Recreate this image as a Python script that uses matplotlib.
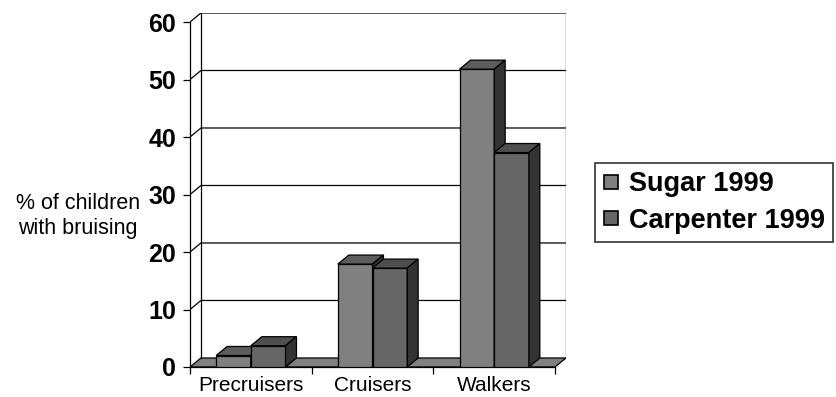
import numpy as np
import matplotlib.pyplot as plt
from matplotlib.lines import Line2D

plt.rcParams['font.family'] = ['Liberation Sans', 'DejaVu Sans']

categories = ['Precruisers', 'Cruisers', 'Walkers']
sugar = [2.0, 17.9, 51.8]
carpenter = [3.7, 17.2, 37.3]
series_names = ['Sugar 1999', 'Carpenter 1999']
yticks = [0, 10, 20, 30, 40, 50, 60]

# fake 3d: depth offset in data units
dx = 0.09
dy = 1.57
bw = 0.285
ymax = 60

front_cols = ['#808080', '#666666']
top_cols = ['#5c5c5c', '#4e4e4e']
side_col = '#333333'

fig = plt.figure(figsize=(8.37, 3.97), dpi=100)
ax = fig.add_axes([190/837, 30/397, 376/837, 354/397])
ax.set_xlim(-0.5, 2.5 + dx)
ax.set_ylim(0, ymax + dy)

x = np.arange(len(categories))
x0, x1 = -0.5, len(categories) - 0.5

# floor
ax.fill([x0, x1, x1 + dx, x0 + dx], [0, 0, dy, dy], facecolor='#808080',
        edgecolor='black', lw=0.9, zorder=1)

# back wall, side wall gridlines
for v in yticks[1:]:
    ax.plot([x0, x0 + dx, x1 + dx], [v, v + dy, v + dy], color='black', lw=0.9, zorder=1)
ax.plot([x0 + dx, x0 + dx], [dy, ymax + dy], color='black', lw=0.9, zorder=1)
ax.plot([x1 + dx, x1 + dx], [dy, ymax + dy], color='black', lw=0.9, zorder=1)

# bars: front face, top and right side
for i, vals in enumerate([sugar, carpenter]):
    left = x - bw + i * bw
    ax.bar(left, vals, width=bw, align='edge', color=front_cols[i],
           edgecolor='black', lw=0.9, zorder=3 + i)
    for l, v in zip(left, vals):
        r = l + bw
        ax.fill([l, r, r + dx, l + dx], [v, v, v + dy, v + dy],
                facecolor=top_cols[i], edgecolor='black', lw=0.9, zorder=3 + i)
        ax.fill([r, r + dx, r + dx, r], [0, dy, v + dy, v],
                facecolor=side_col, edgecolor='black', lw=0.9, zorder=3 + i)

for s in ['top', 'right']:
    ax.spines[s].set_visible(False)
ax.spines['left'].set_bounds(0, ymax)
ax.spines['bottom'].set_bounds(x0, x1)
for s in ['left', 'bottom']:
    ax.spines[s].set_linewidth(0.9)
    ax.spines[s].set_zorder(2)

ax.set_yticks(yticks)
ax.set_yticklabels([str(t) for t in yticks], fontsize=18, fontweight='bold')
ax.tick_params(axis='y', direction='out', length=5, width=0.9, pad=5)

ax.set_xticks(x)
ax.set_xticklabels(categories, fontsize=15)
ax.set_xticks(np.arange(x0, x1 + 0.01, 1.0), minor=True)
ax.tick_params(axis='x', which='major', length=0, pad=6.5)
ax.tick_params(axis='x', which='minor', direction='out', length=5, width=0.9)

fig.text(78/837, 1 - 216/397, '% of children\nwith bruising', fontsize=15.5,
         ha='center', va='center', linespacing=1.25)

handles = [Line2D([], [], linestyle='none', marker='s', markersize=9.5,
                  markerfacecolor=c, markeredgecolor='black', markeredgewidth=1.2)
           for c in front_cols]
leg = fig.legend(handles, series_names, loc='upper left',
                 bbox_to_anchor=(595/837, 1 - 163/397), borderaxespad=0,
                 prop={'size': 19.5, 'weight': 'bold'}, frameon=True, fancybox=False,
                 edgecolor='black', handlelength=0.6, handletextpad=0.35,
                 borderpad=0.3, labelspacing=0.4)
leg.get_frame().set_linewidth(1.2)

fig.savefig('out.png', dpi=100)
